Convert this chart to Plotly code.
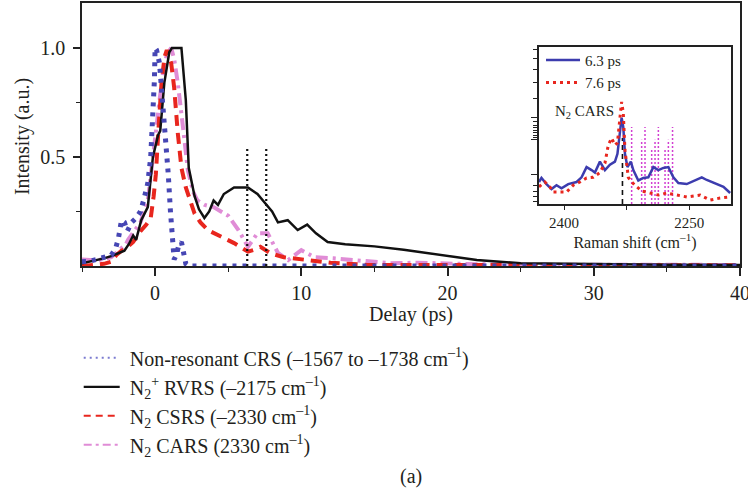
import plotly.graph_objects as go

# ---------------- main panel data (delay in ps, normalised intensity) ----------------
crs_t = [-5, -4.5, -4, -3.5, -3, -2.7, -2.5, -2.3, -2.1, -1.9, -1.6, -1.3, -1.0, -0.75, -0.5,
         -0.3, -0.15, -0.05, 0.0, 0.1, 0.3, 0.5, 0.7, 0.9, 1.05, 1.2, 1.3, 1.45, 1.6, 1.8,
         1.95, 2.1, 2.3, 3, 5, 10, 15, 20, 25, 30, 35, 40]
crs_i = [0.02, 0.022, 0.03, 0.04, 0.05, 0.08, 0.13, 0.21, 0.2, 0.16, 0.2, 0.22, 0.25, 0.31, 0.38,
         0.5, 0.67, 0.85, 1.0, 0.99, 0.93, 0.78, 0.6, 0.42, 0.25, 0.1, 0.03, 0.05, 0.09, 0.11,
         0.07, 0.01, 0.0, 0.0, 0.0, 0.0, 0.0, 0.0, 0.0, 0.0, 0.0, 0.0]

rvrs_t = [-5, -4.5, -4, -3.5, -3, -2.5, -2.1, -1.8, -1.5, -1.3, -0.95, -0.5, -0.15, 0.2, 0.35,
          0.63, 0.97, 1.15, 1.5, 1.8, 2.1, 2.3, 2.7, 3.0, 3.37, 3.7, 4.0, 4.3, 4.7, 5.4, 6.35,
          7.0, 7.5, 8.0, 8.4, 9.07, 9.75, 10.4, 11.0, 11.8, 13, 15, 17, 19, 21, 22, 25, 30, 35, 40]
rvrs_i = [0.013, 0.02, 0.03, 0.035, 0.045, 0.06, 0.07, 0.1, 0.14, 0.12, 0.21, 0.27, 0.5, 0.6, 0.62,
          0.84, 0.98, 1.0, 1.0, 1.0, 0.76, 0.45, 0.32, 0.26, 0.22, 0.25, 0.30, 0.28, 0.33, 0.36, 0.36,
          0.33, 0.29, 0.25, 0.2, 0.21, 0.165, 0.19, 0.15, 0.11, 0.1, 0.09, 0.075, 0.055, 0.035, 0.027,
          0.013, 0.008, 0.006, 0.005]

csrs_t = [-5, -4.2, -3.5, -3.0, -2.65, -2.3, -2.0, -1.5, -1.0, -0.6, -0.3, -0.1, 0.05, 0.25, 0.45,
          0.65, 0.8, 1.1, 1.3, 1.55, 1.8, 2.1, 2.4, 2.7, 3.1, 3.6, 4.5, 5.4, 6.35, 6.8, 7.2, 7.9,
          8.8, 10.4, 12, 14.5, 20, 25, 30, 35, 40]
csrs_i = [0.0, 0.005, 0.01, 0.02, 0.05, 0.07, 0.08, 0.11, 0.16, 0.19, 0.22, 0.32, 0.42, 0.65, 0.85,
          0.96, 0.99, 0.93, 0.82, 0.61, 0.45, 0.36, 0.3, 0.24, 0.2, 0.165, 0.135, 0.105, 0.066, 0.075,
          0.088, 0.058, 0.04, 0.028, 0.015, 0.005, 0.004, 0.003, 0.003, 0.003, 0.003]

cars_t = [-5, -4, -3, -2.5, -2, -1.85, -1.5, -1, -0.5, -0.15, 0.2, 0.5, 0.8, 1.1, 1.3, 1.55, 1.9,
          2.24, 2.6, 2.9, 3.4, 4.0, 4.5, 5.0, 5.7, 6.35, 7.0, 7.7, 8.4, 9.1, 10.0, 10.9, 12.2, 14.5,
          16.1, 18, 20, 22, 25, 30, 35, 40]
cars_i = [0.03, 0.025, 0.04, 0.07, 0.1, 0.12, 0.15, 0.2, 0.3, 0.49, 0.7, 0.87, 0.97, 1.0, 0.95, 0.84,
          0.64, 0.44, 0.34, 0.30, 0.28, 0.27, 0.25, 0.23, 0.165, 0.088, 0.15, 0.15, 0.06, 0.027, 0.073,
          0.04, 0.035, 0.02, 0.013, 0.015, 0.01, 0.008, 0.006, 0.005, 0.005, 0.005]

marker_delays = [6.3, 7.6]
marker_heights = [0.54, 0.55]

series_names = [
    "Non-resonant CRS (–1567 to –1738 cm<sup>–1</sup>)",
    "N<sub>2</sub><sup>+</sup> RVRS (–2175 cm<sup>–1</sup>)",
    "N<sub>2</sub> CSRS (–2330 cm<sup>–1</sup>)",
    "N<sub>2</sub> CARS (2330 cm<sup>–1</sup>)",
]
x_tick_vals = [0, 10, 20, 30, 40]
y_tick_vals = [0.5, 1.0]
y_tick_text = ["0.5", "1.0"]

# ---------------- inset data (Raman shift in cm-1, arbitrary units) ----------------
spec63_x = [2430, 2427, 2421, 2415, 2409, 2403, 2395, 2385, 2379, 2373, 2367, 2363, 2357, 2351,
            2345, 2339, 2336, 2333, 2331, 2329, 2327, 2324, 2320, 2317, 2311, 2305, 2299, 2293,
            2287, 2281, 2275, 2269, 2263, 2253, 2241, 2235, 2229, 2219, 2209, 2201]
spec63_y = [0.14, 0.166, 0.127, 0.095, 0.12, 0.10, 0.127, 0.14, 0.17, 0.235, 0.216, 0.2, 0.27, 0.216,
            0.25, 0.27, 0.32, 0.47, 0.55, 0.49, 0.32, 0.235, 0.27, 0.216, 0.15, 0.166, 0.17, 0.235,
            0.216, 0.23, 0.235, 0.17, 0.134, 0.127, 0.153, 0.17, 0.153, 0.134, 0.11, 0.07]
spec76_x = [2430, 2423, 2417, 2413, 2405, 2397, 2389, 2381, 2373, 2365, 2357, 2351, 2347, 2343,
            2339, 2336, 2333, 2331, 2329, 2327, 2323, 2319, 2313, 2307, 2297, 2287, 2277, 2265,
            2253, 2237, 2225, 2213, 2201]
spec76_y = [0.11, 0.14, 0.11, 0.076, 0.076, 0.076, 0.12, 0.14, 0.166, 0.17, 0.2, 0.26, 0.375, 0.42,
            0.375, 0.39, 0.55, 0.65, 0.58, 0.344, 0.17, 0.14, 0.11, 0.083, 0.07, 0.057, 0.07, 0.057,
            0.045, 0.057, 0.025, 0.038, 0.045]
n2_cars_shift = 2330
n2_cars_height = 0.42
n2p_lines_x = [2319, 2307, 2303, 2295, 2291, 2287, 2279, 2275, 2270]
n2p_lines_h = [0.49, 0.41, 0.49, 0.357, 0.41, 0.49, 0.357, 0.41, 0.49]
inset_names = ["6.3 ps", "7.6 ps"]
inset_x_ticks = [2400, 2325, 2250]
inset_x_text = ["2400", "", "2250"]
inset_y_major = [0.552, 0.408, 0.185]
inset_y_minor = [0.981, 0.924, 0.854, 0.773, 0.673, 0.524, 0.503, 0.488, 0.471, 0.454, 0.439,
                 0.422, 0.121, 0.078, 0.047, 0.015]

FONT = "Liberation Serif"
TXT = "#231f20"
BLUE = "#4646b4"
RED = "#e8261e"
PINK = "#e08cd6"
BLACK = "#111111"

fig = go.Figure()

# main curves (drawn without legend; legend uses thin proxies)
fig.add_trace(go.Scatter(x=cars_t, y=cars_i, mode="lines", showlegend=False,
                         line=dict(color=PINK, width=4, dash="12px,5px,3px,5px")))
fig.add_trace(go.Scatter(x=csrs_t, y=csrs_i, mode="lines", showlegend=False,
                         line=dict(color=RED, width=4, dash="11px,7px")))
fig.add_trace(go.Scatter(x=rvrs_t, y=rvrs_i, mode="lines", showlegend=False,
                         line=dict(color=BLACK, width=2.5)))
fig.add_trace(go.Scatter(x=crs_t, y=crs_i, mode="lines", showlegend=False,
                         line=dict(color=BLUE, width=5, dash="4px,6px")))
for d, h in zip(marker_delays, marker_heights):
    fig.add_trace(go.Scatter(x=[d, d], y=[0, h], mode="lines", showlegend=False,
                             line=dict(color=BLACK, width=2.2, dash="2px,3px")))

# legend proxies
proxy_styles = [
    dict(color="#7b7bd0", width=2, dash="2px,4px"),
    dict(color=BLACK, width=2.2),
    dict(color=RED, width=2, dash="7px,5px"),
    dict(color=PINK, width=2, dash="8px,4px,3px,4px"),
]
for i, (nm, st) in enumerate(zip(series_names, proxy_styles)):
    fig.add_trace(go.Scatter(x=[None], y=[None], mode="lines", name="\u00a0" + nm, line=st,
                             legend="legend", legendgroup=f"g{i}", legendrank=i + 1))

# inset
vx, vy = [], []
for xv, hv in zip(n2p_lines_x, n2p_lines_h):
    vx += [xv, xv, None]
    vy += [0, hv, None]
fig.add_trace(go.Scatter(x=vx, y=vy, xaxis="x2", yaxis="y2", mode="lines", showlegend=False,
                         line=dict(color="#d23fd2", width=1.5, dash="2px,2px")))
fig.add_trace(go.Scatter(x=[n2_cars_shift, n2_cars_shift], y=[0, n2_cars_height], xaxis="x2",
                         yaxis="y2", mode="lines", showlegend=False,
                         line=dict(color=BLACK, width=1.6, dash="5px,4px")))
fig.add_trace(go.Scatter(x=spec63_x, y=spec63_y, xaxis="x2", yaxis="y2", mode="lines",
                         name=inset_names[0], legend="legend2",
                         line=dict(color="#3c3cae", width=2.5)))
fig.add_trace(go.Scatter(x=spec76_x, y=spec76_y, xaxis="x2", yaxis="y2", mode="lines",
                         name=inset_names[1], legend="legend2",
                         line=dict(color=RED, width=3, dash="3px,4px")))

axis_line = dict(showline=True, linecolor="#222222", linewidth=1.6, mirror=True,
                 showgrid=False, zeroline=False, automargin=False)

fig.update_layout(
    width=748, height=492,
    margin=dict(l=82, r=8, t=3, b=226, autoexpand=False),
    paper_bgcolor="white", plot_bgcolor="white",
    font=dict(family=FONT, size=20, color=TXT),
    xaxis=dict(range=[-5, 40], tickmode="array", tickvals=x_tick_vals,
               ticks="outside", ticklen=8, tickwidth=1.6, tickcolor="#222222",
               ticklabeloverflow="allow", ticklabelstandoff=0,
               minor=dict(tickvals=[-5, 5, 15, 25, 35], ticks="outside", ticklen=4,
                          tickwidth=1.4, tickcolor="#222222"),
               tickfont=dict(size=20), **axis_line),
    yaxis=dict(range=[0, 1.206], tickmode="array", tickvals=y_tick_vals, ticktext=y_tick_text,
               ticks="outside", ticklen=7, tickwidth=1.6, tickcolor="#222222",
               ticklabelstandoff=4,
               minor=dict(tickvals=[0.25, 0.75], ticks="outside", ticklen=4,
                          tickwidth=1.4, tickcolor="#222222"),
               tickfont=dict(size=20), **axis_line),
    xaxis2=dict(domain=[0.6945, 0.9863], anchor="y2", range=[2430, 2200],
                tickmode="array", tickvals=inset_x_ticks, ticktext=inset_x_text,
                ticks="outside", ticklen=4, tickwidth=1.3, tickcolor="#222222",
                tickfont=dict(size=15),
                title=dict(text="Raman shift (cm<sup>–1</sup>)", standoff=2, font=dict(size=16)),
                **axis_line),
    yaxis2=dict(domain=[0.2357, 0.8327], anchor="x2", range=[0, 1],
                tickmode="array", tickvals=inset_y_major, showticklabels=False,
                ticks="outside", ticklen=6, tickwidth=1.3, tickcolor="#222222",
                minor=dict(tickvals=inset_y_minor, ticks="outside", ticklen=4,
                           tickwidth=1.2, tickcolor="#222222"),
                **axis_line),
    legend=dict(x=-0.005, y=-0.275, xanchor="left", yanchor="top", xref="paper", yref="paper",
                bgcolor="rgba(0,0,0,0)", font=dict(size=20, color=TXT), traceorder="grouped",
                tracegroupgap=0, itemwidth=36),
    legend2=dict(x=0.6976, y=0.845, xanchor="left", yanchor="top", xref="paper", yref="paper",
                 bgcolor="rgba(0,0,0,0)", font=dict(size=15, color=TXT), itemwidth=34,
                 tracegroupgap=0),
    annotations=[
        dict(x=0.5, y=-0.185, xref="paper", yref="paper", text="Delay (ps)", showarrow=False,
             yanchor="middle", font=dict(size=20, color=TXT)),
        dict(x=-0.0912, y=0.494, xref="paper", yref="paper", text="Intensity (a.u.)",
             showarrow=False, textangle=-90, xanchor="center", yanchor="middle",
             font=dict(size=20, color=TXT)),
        dict(x=2376, y=0.586, xref="x2", yref="y2", text="N<sub>2</sub> CARS", showarrow=False,
             font=dict(size=15, color=TXT)),
        dict(x=0.5, y=-0.802, xref="paper", yref="paper", text="(a)", showarrow=False,
             yanchor="middle", font=dict(size=20, color=TXT)),
    ],
)

fig.write_html("out.html", post_script="document.body.style.margin='0px';",
               config={"displayModeBar": False})
